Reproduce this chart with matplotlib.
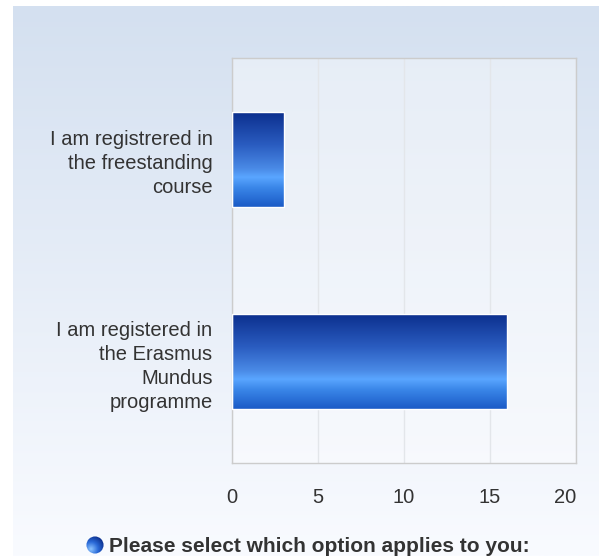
import matplotlib
matplotlib.use("Agg")
import matplotlib.pyplot as plt
import numpy as np
from matplotlib.colors import LinearSegmentedColormap
from matplotlib.patches import Circle

plt.rcParams['font.family'] = ['Liberation Sans', 'DejaVu Sans']

# data
categories = [
    "I am registrered in\nthe freestanding\ncourse",
    "I am registered in\nthe Erasmus\nMundus\nprogramme",
]
counts = [3, 16]
x_ticks = [0, 5, 10, 15, 20]
legend_label = "Please select which option applies to you:"

W, H = 599, 558
fig = plt.figure(figsize=(W / 100, H / 100), dpi=100)
fig.patch.set_facecolor('white')

# background gradient panel
bg = fig.add_axes([13 / W, 2 / H, (W - 13) / W, (556 - 6) / H])
bg_cmap = LinearSegmentedColormap.from_list('bg', ['#d4e0f0', '#f9fbff'])
bg.imshow(np.linspace(0, 1, 256).reshape(-1, 1), cmap=bg_cmap, aspect='auto',
          extent=[0, 1, 0, 1])
bg.set_axis_off()

# main plot area
ax = fig.add_axes([232 / W, 1 - 463 / H, (576 - 232) / W, (463 - 58) / H])
ax.patch.set_facecolor((1, 1, 1, 0.4))

pos = np.arange(len(categories))
bars = ax.barh(pos, counts, height=0.47, color='none', edgecolor='white',
               linewidth=1.0, zorder=3)

bar_cmap = LinearSegmentedColormap.from_list('bar', [
    (0.0, '#0b2e8c'), (0.35, '#2a5cc0'), (0.6, '#4a8ae6'),
    (0.69, '#5aa6ff'), (0.8, '#3a86e8'), (1.0, '#1a5ac6')])
grad = np.linspace(0, 1, 256).reshape(-1, 1)
for b in bars:
    x0, y0 = b.get_x(), b.get_y()
    w, h = b.get_width(), b.get_height()
    im = ax.imshow(grad, cmap=bar_cmap, aspect='auto',
                   extent=[x0, x0 + w, y0 + h, y0], zorder=2,
                   interpolation='bilinear')
    im.set_clip_path(b)

ax.set_xlim(0, 20)
ax.set_ylim(len(categories) - 0.5, -0.5)
ax.set_xticks(x_ticks)
ax.set_yticks(pos)
ax.set_yticklabels(categories, ha='right', linespacing=1.33)
ax.tick_params(axis='both', length=0, labelsize=14.5, colors='#333333')
ax.tick_params(axis='x', pad=18)
ax.tick_params(axis='y', pad=14)
# last x label kept inside the plot edge
ax.get_xticklabels()[-1].set_ha('right')
ax.get_xticklabels()[-1].set_x(20)
ax.grid(axis='x', color='#e3e6ea', linewidth=1, zorder=0)
ax.set_axisbelow(True)
for s in ax.spines.values():
    s.set_color('#cccccc')
    s.set_linewidth(1)

# legend: sphere marker + bold label
lax = fig.add_axes([86 / W, 1 - 554 / H, 18 / W, 18 / H])
lax.set_xlim(-1, 1)
lax.set_ylim(-1, 1)
lax.set_aspect('equal')
lax.set_axis_off()
yy, xx = np.mgrid[-1:1:100j, -1:1:100j]
shade = np.clip(np.hypot(xx + 0.45, yy - 0.45) / 1.6, 0, 1)
sph_cmap = LinearSegmentedColormap.from_list('sph', ['#8cc4ff', '#2a6ad8', '#0b2e8c'])
sim = lax.imshow(shade, cmap=sph_cmap, extent=[-1, 1, -1, 1], origin='upper')
circ = Circle((0, 0), 0.95, transform=lax.transData)
sim.set_clip_path(circ)

fig.text(109 / W, 1 - 546 / H, legend_label, fontsize=15, fontweight='bold',
         color='#333333', va='center', ha='left')

fig.savefig('out.png', dpi=100)
